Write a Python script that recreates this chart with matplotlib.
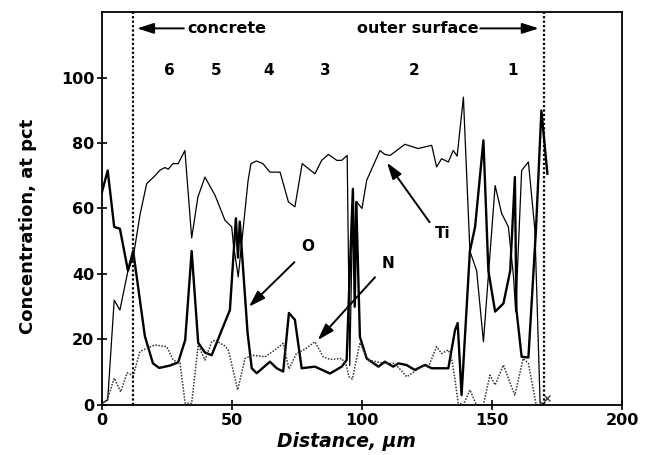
import matplotlib
matplotlib.use("Agg")
import matplotlib.pyplot as plt

plt.rcParams['font.family'] = ['DejaVu Sans']

# Ti (thin solid)
ti_x = [0, 2.2, 4.7, 6.9, 10, 12, 14.6, 17.2, 20.4, 22.3, 24.2, 25.5, 27.3, 29.3, 31.9, 34.5, 36.9, 39.6,
        43.5, 47.3, 49.9, 50.5, 52.4, 56.2, 57.3, 59.4, 61.9, 64.6, 68.5, 71.7, 74.2, 77, 81.9, 84.5, 87.1,
        90.3, 92.2, 94.3, 95.3, 96.3, 97.2, 98, 100, 101.8, 106.9, 108.8, 110.8, 116.5, 121.6, 126.8, 128.7,
        130.6, 133.2, 135.1, 136.6, 139, 141.5, 144.1, 146.7, 151.2, 153.7, 156.3, 158.3, 159.1, 161.4, 164,
        166.5, 168.5, 170]
ti_y = [0.5, 1.5, 32, 29, 41, 45, 58, 67.6, 70, 71.7, 72.5, 72, 73.7, 73.7, 77.7, 51, 63.5, 69.6,
        64, 56.4, 54.4, 49.3, 39.1, 68.6, 73.7, 74.5, 73.7, 71.1, 71.1, 62, 60.5, 73.7, 70.6, 74.7, 76.5,
        74.7, 74.7, 76.2, 12, 55, 40, 62, 60, 68.6, 77.7, 76.5, 76.2, 79.6, 78.3, 79.3, 72.7,
        75.2, 74.2, 77.7, 76, 94, 47, 41, 19.3, 67, 58.5, 54.4, 39, 28.5, 71.6, 74.2,
        53.4, 0.6, 0.5]

# O (thick solid)
o_x = [0, 2.2, 4.7, 6.9, 10, 12, 16.5, 19.6, 22, 26, 29.3, 32, 34.5, 37, 39.6, 42.2, 46.6, 49.2, 51.5,
       52.3, 53, 56, 57.6, 59.5, 64.6, 67.2, 69.7, 71.9, 74.2, 76.8, 81.9, 87.7, 92.2, 94.1, 95.5, 96.5,
       97.2, 97.8, 99.2, 101.8, 106.3, 108.8, 112, 114, 117.1, 120.3, 124.2, 126.8, 133.2, 135.8, 136.8,
       138.3, 141.5, 143.5, 146.7, 148.6, 151.2, 154.4, 157, 158.8, 159.4, 161.4, 164, 166.9, 169, 171.3]
o_y = [65, 71.6, 54.4, 53.8, 41, 47, 21, 12.7, 11.3, 12, 13, 19.8, 47, 19, 16, 15.2, 23.9, 29, 57,
       45, 56, 22, 11.2, 9.7, 13.2, 11.2, 10.2, 28.1, 26, 11.2, 11.7, 9.6, 11.7, 13.7, 45, 66,
       30, 62, 20.8, 14.2, 11.7, 13.2, 11.7, 12.7, 12.2, 10.7, 12.2, 11.2, 11.2, 22.9, 25,
       3, 47, 54.4, 80.8, 41, 28.5, 31, 41, 69.6, 29, 14.7, 14.5, 53.4, 89.9, 70.6]

# N (dotted)
n_x = [0, 2, 4.7, 7.2, 9.7, 12, 14.6, 17.2, 20.4, 24.9, 27.4, 30, 32, 34.5, 37, 39.6, 42.2, 43.5, 47.3,
       48.6, 52.2, 55, 57.6, 62.7, 66, 69.7, 71.9, 74.8, 78, 81.9, 85.1, 87.7, 92.2, 94, 95, 96.3, 99.2,
       102.4, 108.8, 112.6, 117.2, 123, 126, 128.7, 130.6, 133.2, 134.5, 135.8, 137, 139, 141.5, 144,
       146.7, 149.2, 151.2, 154.4, 157, 158.8, 162, 164, 167, 169.6, 171.3]
n_y = [0.5, 1.5, 8.2, 4, 9.8, 8.9, 16.3, 17.3, 18.3, 17.8, 13.7, 12.8, 0.5, 0.5, 18.3, 13.7, 19.3, 19.8, 18,
       16.8, 4.6, 14.2, 15.2, 14.7, 16.5, 18.8, 11, 15.7, 17, 19.3, 14.7, 13.9, 14.2, 12, 8.6, 7.9, 19,
       13.7, 12.7, 12.7, 8.6, 11.7, 12.5, 17.8, 15.7, 16.8, 14, 7.6, 0.6, 0, 4.6, 0,
       0, 9.1, 6.1, 12.2, 6.6, 3, 14.2, 12.7, 0, 0, 2]

boundaries = [12, 170]
zone_labels = ["6", "5", "4", "3", "2", "1"]
zone_x = [26, 44, 64, 86, 120, 158]

fig = plt.figure(figsize=(6.52, 4.55), dpi=100)
ax = fig.add_axes([0.1564, 0.11, 0.7976, 0.8636])

ax.plot(ti_x, ti_y, color='black', lw=0.9)
ax.plot(o_x, o_y, color='black', lw=1.7)
ax.plot(n_x, n_y, color='#333333', lw=1.1, ls=(0, (1, 1)), marker='x', markevery=[len(n_x) - 1], ms=5, mew=0.9)

for b in boundaries:
    ax.axvline(b, color='black', lw=1.6, ls=(0, (1, 1)))

ax.set_xlim(0, 200)
ax.set_ylim(0, 120)
ax.set_xticks([0, 50, 100, 150, 200])
ax.set_yticks([0, 20, 40, 60, 80, 100])
ax.tick_params(direction='inout', length=7, width=1.2, labelsize=11.5, pad=2)
for lab in ax.get_xticklabels() + ax.get_yticklabels():
    lab.set_fontweight('bold')
for s in ax.spines.values():
    s.set_linewidth(1.3)

ax.set_xlabel('Distance, μm', fontsize=13.5, fontweight='bold', style='italic')
ax.set_ylabel('Concentration, at pct', fontsize=13, fontweight='bold')
ax.xaxis.set_label_coords(0.47, -0.07)
ax.yaxis.set_label_coords(-0.125, 0.455)

for lab, zx in zip(zone_labels, zone_x):
    ax.text(zx, 102, lab, ha='center', va='center', fontsize=11, fontweight='bold')

arrow = dict(arrowstyle='-|>,head_length=1.0,head_width=0.32', color='black', lw=1.4, shrinkA=0, shrinkB=0)
ax.annotate('', xy=(13.5, 115), xytext=(31.5, 115), arrowprops=arrow)
ax.text(33, 115, 'concrete', ha='left', va='center', fontsize=11.5, fontweight='bold')
ax.annotate('', xy=(168, 115), xytext=(145.5, 115), arrowprops=arrow)
ax.text(145, 115, 'outer surface', ha='right', va='center', fontsize=11.5, fontweight='bold')

ax.annotate('', xy=(56.5, 30), xytext=(74, 43.6), arrowprops=arrow)
ax.text(79, 48.5, 'O', ha='center', va='center', fontsize=11, fontweight='bold')
ax.annotate('', xy=(83, 19.8), xytext=(105, 39), arrowprops=arrow)
ax.text(110, 43.3, 'N', ha='center', va='center', fontsize=11, fontweight='bold')
ax.annotate('', xy=(109.6, 74), xytext=(126, 55.8), arrowprops=arrow)
ax.text(131, 52.4, 'Ti', ha='center', va='center', fontsize=11, fontweight='bold')

fig.savefig('out.png', dpi=100)
